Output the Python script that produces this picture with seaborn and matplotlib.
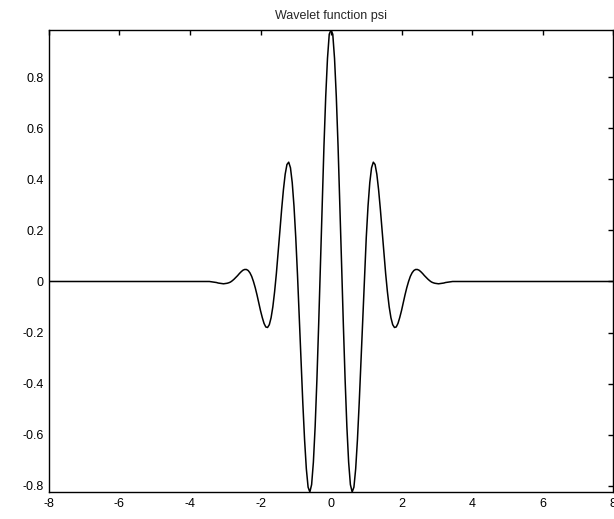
import numpy as np
import matplotlib
matplotlib.use('Agg')
import matplotlib.pyplot as plt
import seaborn as sns

# sample positions of the wavelet
x_grid = np.round(np.linspace(-3.5, 3.5, 141), 2)
x_vals = np.concatenate([[-8.0], x_grid, [8.0]])

psi = [
    0.000, 0.000, -0.001, -0.002, -0.003, -0.004, -0.006, -0.007, -0.008, -0.009,
    -0.008, -0.007, -0.005, -0.002, 0.003, 0.009, 0.016, 0.023, 0.031, 0.038,
    0.044, 0.047, 0.047, 0.043, 0.034, 0.020, 0.000, -0.024, -0.052, -0.083,
    -0.114, -0.141, -0.164, -0.178, -0.180, -0.169, -0.142, -0.099, -0.040, 0.031,
    0.113, 0.198, 0.283, 0.359, 0.420, 0.458, 0.467, 0.445, 0.387, 0.295,
    0.172, 0.024, -0.141, -0.311, -0.475, -0.619, -0.733, -0.805, -0.824, -0.795,
    -0.707, -0.568, -0.384, -0.168, 0.068, 0.306, 0.530, 0.724, 0.873, 0.968,
    0.984,
    0.968, 0.873, 0.724, 0.530, 0.306, 0.068, -0.168, -0.384, -0.568, -0.707,
    -0.795, -0.824, -0.805, -0.733, -0.619, -0.475, -0.311, -0.141, 0.024, 0.172,
    0.295, 0.387, 0.445, 0.467, 0.458, 0.420, 0.359, 0.283, 0.198, 0.113,
    0.031, -0.040, -0.099, -0.142, -0.169, -0.180, -0.178, -0.164, -0.141, -0.114,
    -0.083, -0.052, -0.024, 0.000, 0.020, 0.034, 0.043, 0.047, 0.047, 0.044,
    0.038, 0.031, 0.023, 0.016, 0.009, 0.003, -0.002, -0.005, -0.007, -0.008,
    -0.009, -0.008, -0.007, -0.006, -0.004, -0.003, -0.002, -0.001, 0.000, 0.000,
]
y_vals = np.concatenate([[0.0], psi, [0.0]])

x_ticks = [-8, -6, -4, -2, 0, 2, 4, 6, 8]
x_ticklabels = ['-8', '-6', '-4', '-2', '0', '2', '4', '6', '8']
y_ticks = [-0.8, -0.6, -0.4, -0.2, 0, 0.2, 0.4, 0.6, 0.8]
y_ticklabels = ['-0.8', '-0.6', '-0.4', '-0.2', '0', '0.2', '0.4', '0.6', '0.8']

sns.set_style('white')
plt.rcParams['font.family'] = ['Liberation Sans', 'DejaVu Sans']

fig = plt.figure(figsize=(6.14, 5.19), dpi=100)
ax = fig.add_axes([0.0798, 0.052, 0.9186, 0.890])

sns.lineplot(x=x_vals, y=y_vals, color='black', linewidth=1.1, ax=ax)

ax.set_xlim(-8, 8)
ax.set_ylim(-0.824, 0.984)
ax.set_xticks(x_ticks)
ax.set_xticklabels(x_ticklabels)
ax.set_yticks(y_ticks)
ax.set_yticklabels(y_ticklabels)
ax.tick_params(direction='in', length=3.5, width=1, colors='black',
               top=True, right=True, labelsize=9, pad=4)
for s in ax.spines.values():
    s.set_color('black')
    s.set_linewidth(1)

ax.set_title('Wavelet function psi', fontsize=9, pad=8)

fig.savefig('out.png', dpi=100)
